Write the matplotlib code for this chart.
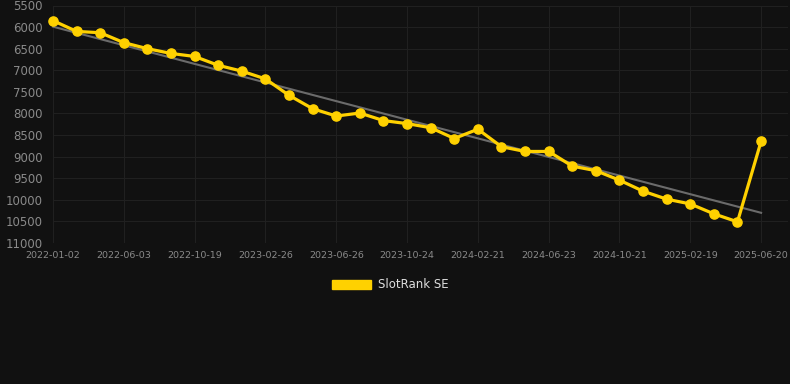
import numpy as np
import matplotlib.pyplot as plt
from matplotlib.patches import Patch

# data
tick_labels = ["2022-01-02", "2022-06-03", "2022-10-19", "2023-02-26", "2023-06-26",
               "2023-10-24", "2024-02-21", "2024-06-23", "2024-10-21", "2025-02-19",
               "2025-06-20"]
rank = [5850, 6100, 6130, 6360, 6500, 6610, 6680, 6885, 7020, 7200,
        7580, 7890, 8060, 7990, 8165, 8235, 8330, 8580, 8365, 8770,
        8880, 8880, 9220, 9325, 9545, 9800, 9985, 10095, 10325, 10510,
        8645]
y_ticks = list(range(5500, 11001, 500))

bg = "#111111"
gold = "#FFD100"

x = np.arange(len(rank))
slope, icept = np.polyfit(x, rank, 1)
trend = slope * x + icept

fig = plt.figure(figsize=(7.9, 3.84), dpi=100, facecolor=bg)
ax = fig.add_axes([53/790, 1 - 243/384, (788 - 53)/790, (243 - 5.5)/384])
ax.set_facecolor(bg)

ax.plot(x, trend, color="#6b6b6b", lw=1.5, zorder=2, clip_on=False)
ax.plot(x, rank, color=gold, lw=2.3, marker="o", ms=6.6, zorder=3, clip_on=False)

ax.set_xlim(0, 31.14)
ax.set_ylim(11000, 5500)
ax.set_yticks(y_ticks)
ax.set_yticklabels([str(v) for v in y_ticks])
ax.set_xticks(x[::3])
ax.set_xticklabels(tick_labels)
ax.grid(True, color="#202020", lw=0.8)
ax.set_axisbelow(True)
for s in ax.spines.values():
    s.set_visible(False)
ax.tick_params(axis="y", length=0, pad=7.5, labelsize=8.5, labelcolor="#8a8a8a")
ax.tick_params(axis="x", length=0, pad=6, labelsize=6.8, labelcolor="#8a8a8a")

handles = [Patch(facecolor=gold, edgecolor=gold, label="SlotRank SE")]
fig.legend(handles=handles, loc="center", bbox_to_anchor=(390/790, 1 - 285/384),
           frameon=False, fontsize=8.5, labelcolor="#dddddd",
           handlelength=3.3, handleheight=0.9, handletextpad=0.6)

fig.savefig("out.png", dpi=100, facecolor=bg)
